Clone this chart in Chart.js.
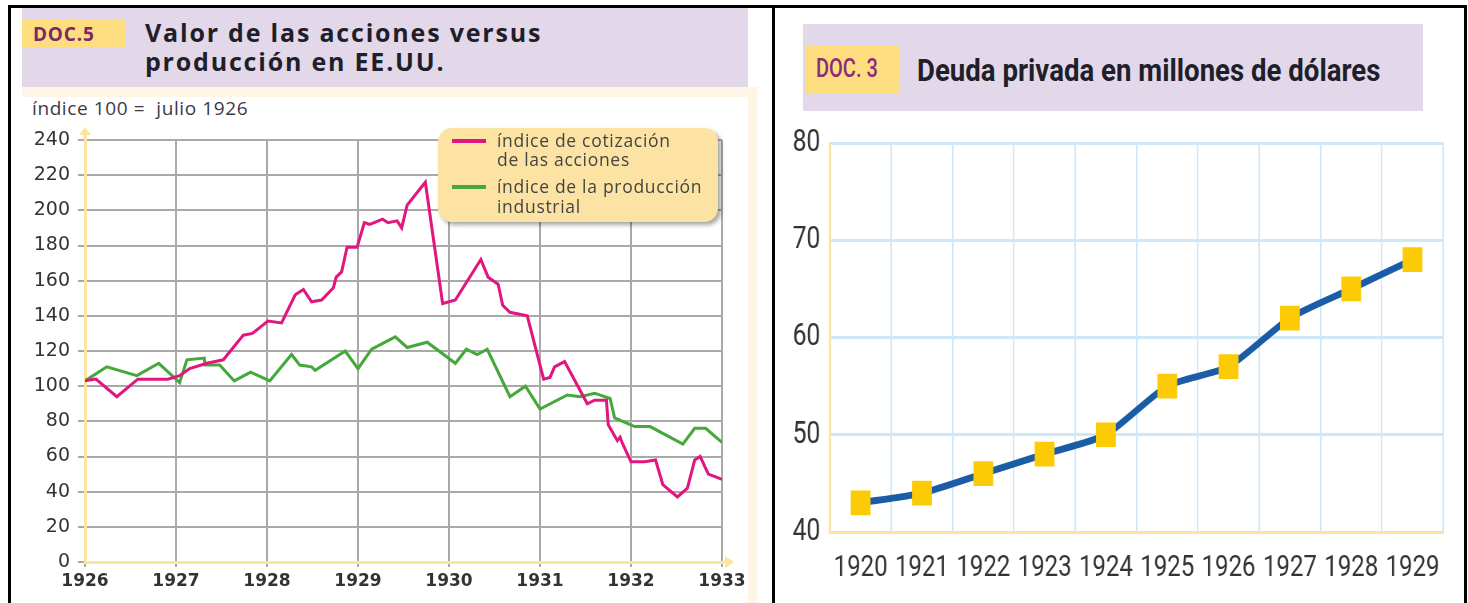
<!DOCTYPE html>
<html>
<head>
<meta charset="utf-8">
<script src="https://cdn.jsdelivr.net/npm/chart.js@4.4.0/dist/chart.umd.min.js"></script>
<style>
  body { margin: 0; width: 1468px; height: 603px; overflow: hidden; background: #fff; position: relative; font-family: "Open Sans", sans-serif; }
  .abs { position: absolute; }
  #frame { left: 8px; top: 5px; width: 1453px; height: 640px; border: 3px solid #000; }
  #divider { left: 772px; top: 5px; width: 3px; height: 600px; background: #000; }
  .band { background: #e3d8ea; }
  .doc { background: #fedd7e; }
  .cream { background: #fff5e6; }
  #t5 { left: 145px; top: 18px; font-weight: 700; font-size: 25px; line-height: 29px; color: #1f1f2a; letter-spacing: 1.8px; }
  #d5 { left: 33px; top: 21px; font-weight: 700; font-size: 19px; color: #7b2869; letter-spacing: 0.8px; }
  #sub5 { left: 32px; top: 95px; font-size: 19px; color: #3a3a48; letter-spacing: 0.6px; }
  #legend { left: 438px; top: 128px; width: 280px; height: 94px; background: #fde3a3; border-radius: 14px; box-shadow: 3px 3px 4px rgba(0,0,0,0.35); }
  .sw { position: absolute; left: 14px; width: 34px; height: 4px; }
  .lt { position: absolute; left: 59px; font-size: 17.5px; line-height: 19px; color: #444; letter-spacing: 0.7px; }
  .squeeze { transform: scaleX(0.8); transform-origin: 0 0; }
  #d3 { left: 816px; top: 54px; font-family: Roboto, sans-serif; font-weight: 500; font-size: 25px; color: #8a2c7a; }
  #t3 { left: 917px; top: 52px; font-family: Roboto, sans-serif; font-weight: 700; font-size: 31px; color: #1f1f2a; white-space: nowrap; transform: scaleX(0.89); transform-origin: 0 0; }
</style>
</head>
<body>
<div id="frame" class="abs"></div>
<div id="divider" class="abs"></div>

<!-- DOC.5 header -->
<div class="abs band" style="left:22px;top:8px;width:726px;height:79px;"></div>
<div class="abs cream" style="left:22px;top:87px;width:735px;height:10px;"></div>
<div class="abs cream" style="left:748px;top:87px;width:9px;height:520px;"></div>
<div class="abs doc" style="left:22px;top:20px;width:104px;height:28px;"></div>
<div id="d5" class="abs">DOC.5</div>
<div id="t5" class="abs">Valor de las acciones versus<br>producción en EE.UU.</div>
<div id="sub5" class="abs">índice 100 =&nbsp; julio 1926</div>
<canvas id="stockChart" class="abs" style="left:20px;top:120px;" width="740" height="483"></canvas>
<div id="legend" class="abs">
  <span class="sw" style="top:11px;background:#e2167f;"></span>
  <span class="lt" style="top:3px;">índice de cotización</span>
  <span class="lt" style="top:22px;">de las acciones</span>
  <span class="sw" style="top:57px;background:#45a83a;"></span>
  <span class="lt" style="top:49px;">índice de la producción</span>
  <span class="lt" style="top:69px;">industrial</span>
</div>

<!-- DOC. 3 header -->
<div class="abs band" style="left:803px;top:24px;width:620px;height:87px;"></div>
<div class="abs doc" style="left:806px;top:45px;width:94px;height:48px;"></div>
<div id="d3" class="abs squeeze">DOC. 3</div>
<div id="t3" class="abs">Deuda privada en millones de dólares</div>
<canvas id="debtChart" class="abs squeeze" style="left:780px;top:120px;" width="850" height="483"></canvas>

<script>
// Doc 5: stock price index vs industrial production (index 100 = July 1926)
const stockYears = [1926.00, 1926.12, 1926.35, 1926.58, 1926.91, 1927.04, 1927.15, 1927.34, 1927.52, 1927.74,
  1927.84, 1928.01, 1928.16, 1928.31, 1928.40, 1928.49, 1928.60, 1928.73, 1928.76, 1928.82,
  1928.88, 1928.99, 1929.07, 1929.13, 1929.27, 1929.33, 1929.43, 1929.48, 1929.54, 1929.74,
  1929.93, 1930.07, 1930.35, 1930.43, 1930.54, 1930.59, 1930.67, 1930.86, 1931.04, 1931.11,
  1931.16, 1931.27, 1931.52, 1931.60, 1931.73, 1931.75, 1931.85, 1931.88, 1931.91, 1932.00,
  1932.15, 1932.27, 1932.35, 1932.51, 1932.62, 1932.70, 1932.76, 1932.85, 1933.00];
const stockIndex = [103, 104, 94, 104, 104, 106, 110, 113, 115, 129,
  130, 137, 136, 152, 155, 148, 149, 156, 162, 165,
  179, 179, 193, 192, 195, 193, 194, 190, 203, 216,
  147, 149, 172, 162, 158, 146, 142, 140, 104, 105,
  111, 114, 90, 92, 92, 78, 69, 71, 67, 57,
  57, 58, 44, 37, 42, 58, 60, 50, 47];
const prodYears = [1926.00, 1926.24, 1926.57, 1926.81, 1927.04, 1927.12, 1927.31, 1927.32, 1927.48, 1927.64,
  1927.82, 1928.03, 1928.27, 1928.36, 1928.49, 1928.53, 1928.86, 1929.00, 1929.15, 1929.41,
  1929.54, 1929.76, 1930.07, 1930.19, 1930.31, 1930.42, 1930.67, 1930.84, 1931.00, 1931.30,
  1931.44, 1931.60, 1931.77, 1931.82, 1932.04, 1932.21, 1932.57, 1932.70, 1932.82, 1933.00];
const prodIndex = [103, 111, 106, 113, 102, 115, 116, 112, 112, 103,
  108, 103, 118, 112, 111, 109, 120, 110, 121, 128,
  122, 125, 113, 121, 118, 121, 94, 100, 87, 95,
  94, 96, 93, 82, 77, 77, 67, 76, 76, 68];

// Doc 3: private debt in millions of dollars
const debtYears = ['1920', '1921', '1922', '1923', '1924', '1925', '1926', '1927', '1928', '1929'];
const debtValues = [43, 44, 46, 48, 50, 55, 57, 62, 65, 68];

const pink = '#e2167f';
const green = '#45a83a';
const axisYellow = '#fde3a0';
const gridGray = '#a9a9a9';
const clear = 'rgba(0,0,0,0)';

const axisArrows = {
  id: 'axisArrows',
  afterDraw(chart) {
    const { ctx, chartArea: a } = chart;
    ctx.save();
    ctx.strokeStyle = axisYellow;
    ctx.fillStyle = axisYellow;
    ctx.lineWidth = 3;
    ctx.beginPath();
    ctx.moveTo(a.left, a.top);
    ctx.lineTo(a.left, a.top - 6);
    ctx.moveTo(a.right, a.bottom);
    ctx.lineTo(a.right + 4, a.bottom);
    ctx.stroke();
    ctx.beginPath();
    ctx.moveTo(a.left - 6, a.top - 5);
    ctx.lineTo(a.left, a.top - 13);
    ctx.lineTo(a.left + 6, a.top - 5);
    ctx.closePath();
    ctx.fill();
    ctx.beginPath();
    ctx.moveTo(a.right + 3, a.bottom - 6);
    ctx.lineTo(a.right + 12, a.bottom);
    ctx.lineTo(a.right + 3, a.bottom + 6);
    ctx.closePath();
    ctx.fill();
    ctx.restore();
  }
};

new Chart(document.getElementById('stockChart').getContext('2d'), {
  type: 'line',
  data: {
    datasets: [
      {
        label: 'índice de cotización de las acciones',
        data: stockYears.map((x, i) => ({ x: x, y: stockIndex[i] })),
        borderColor: pink,
        borderWidth: 3,
        pointRadius: 0,
        tension: 0,
      },
      {
        label: 'índice de la producción industrial',
        data: prodYears.map((x, i) => ({ x: x, y: prodIndex[i] })),
        borderColor: green,
        borderWidth: 3,
        pointRadius: 0,
        tension: 0,
      },
    ],
  },
  options: {
    responsive: false,
    animation: false,
    devicePixelRatio: 1,
    layout: { autoPadding: false, padding: { top: 20, right: 38, left: 0, bottom: 0 } },
    plugins: { legend: { display: false }, tooltip: { enabled: false } },
    scales: {
      x: {
        type: 'linear',
        min: 1926,
        max: 1933,
        afterFit: (s) => { s.height = 41; },
        ticks: { stepSize: 1, color: '#333', font: { family: 'DejaVu Sans', size: 17, weight: 'bold' }, padding: 4, callback: (v) => String(v) },
        grid: { color: (c) => (c.tick && c.tick.value === 1926 ? clear : gridGray), lineWidth: 2, tickLength: 5, tickColor: gridGray },
        border: { color: axisYellow, width: 3 },
      },
      y: {
        min: 0,
        max: 240,
        afterFit: (s) => { s.width = 65; },
        ticks: { stepSize: 20, color: '#333', font: { family: 'DejaVu Sans', size: 19 }, padding: 8 },
        grid: { color: (c) => (c.tick && c.tick.value === 0 ? clear : gridGray), lineWidth: 2, tickLength: 7, tickColor: gridGray },
        border: { color: axisYellow, width: 3 },
      },
    },
  },
  plugins: [axisArrows],
});

const gridBlue = '#cfe8f8';

// drawn 850px wide and squeezed to 680px on the page, like the condensed original
new Chart(document.getElementById('debtChart').getContext('2d'), {
  type: 'line',
  data: {
    labels: debtYears,
    datasets: [
      {
        label: 'Deuda privada',
        data: debtValues,
        borderColor: '#1b5ca6',
        borderWidth: 7,
        tension: 0.2,
        pointStyle: 'rect',
        pointRadius: 17.5,
        pointBackgroundColor: '#fccb05',
        pointBorderWidth: 0,
      },
    ],
  },
  options: {
    responsive: false,
    animation: false,
    devicePixelRatio: 1,
    layout: { autoPadding: false, padding: { top: 23, right: 21, left: 0, bottom: 0 } },
    plugins: { legend: { display: false }, tooltip: { enabled: false } },
    scales: {
      x: {
        offset: true,
        afterFit: (s) => { s.height = 71; },
        ticks: { color: '#333', font: { family: 'Roboto', size: 30 }, padding: 18, maxRotation: 0, autoSkip: false },
        grid: { offset: true, color: (c) => (c.index === 0 ? clear : gridBlue), lineWidth: 2, drawTicks: false },
        border: { color: axisYellow, width: 3 },
      },
      y: {
        min: 40,
        max: 80,
        afterFit: (s) => { s.width = 62.5; },
        ticks: { stepSize: 10, color: '#333', font: { family: 'Roboto', size: 31, lineHeight: 0.6 }, padding: 12 },
        grid: { color: (c) => (c.tick && c.tick.value === 40 ? clear : gridBlue), lineWidth: 3, drawTicks: false },
        border: { color: axisYellow, width: 3 },
      },
    },
  },
});
</script>
</body>
</html>
